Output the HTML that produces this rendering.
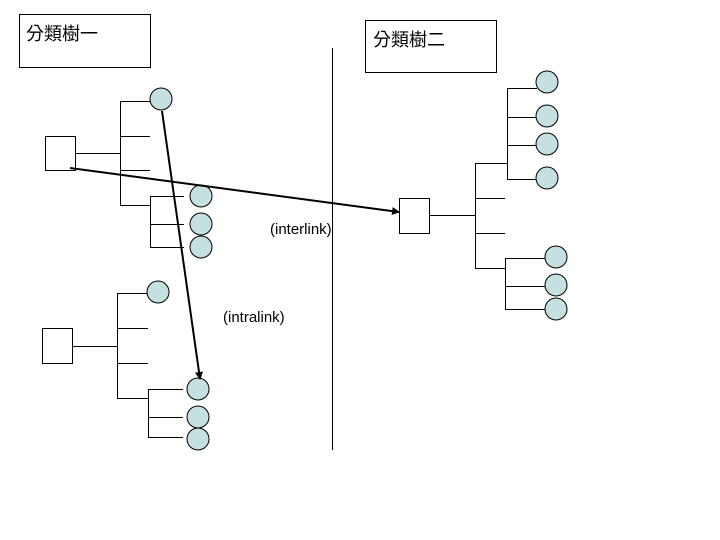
<!DOCTYPE html>
<html><head><meta charset="utf-8"><style>
body{margin:0;width:720px;height:540px;background:#fff;overflow:hidden}
svg{display:block}
text{font-family:"Liberation Sans","Noto Sans CJK TC",sans-serif}
</style></head><body>
<svg width="720" height="540" viewBox="0 0 720 540">
<defs><marker id="ah" markerWidth="8" markerHeight="8" refX="7" refY="4" orient="auto" markerUnits="userSpaceOnUse"><path d="M0,0 L8,4 L0,8 Z" fill="#000"/></marker></defs>
<g stroke="#000" stroke-width="1" fill="none">
<rect x="19.5" y="14.5" width="131" height="53"/>
<rect x="365.5" y="20.5" width="131" height="52"/>
<line x1="332.5" y1="48" x2="332.5" y2="450"/>
<!-- tree1 -->
<rect x="45.5" y="136.5" width="30" height="34" fill="#fff"/>
<path d="M75 153.5H120.5M120.5 101V205M120 101.5H151M120 136.5H150M120 170.5H150M120 205.5H150M150.5 196V247M150 196.5H184M150 224.5H184M150 247.5H184"/>
<!-- tree2 -->
<rect x="42.5" y="328.5" width="30" height="35" fill="#fff"/>
<path d="M72 346.5H117.5M117.5 293V398M117 293.5H147M117 328.5H148M117 363.5H148M117 398.5H148M148.5 389V437M148 389.5H183M148 417.5H183M148 437.5H183"/>
<!-- right -->
<rect x="399.5" y="198.5" width="30" height="35" fill="#fff"/>
<path d="M430 215.5H475.5M475.5 163V268M475 163.5H507M475 198.5H505M475 233.5H505M475 268.5H505M507.5 88V179M507 88.5H537M507 117.5H537M507 145.5H537M507 179.5H537M505.5 258V309M505 258.5H545M505 286.5H545M505 309.5H545"/>
</g>
<g fill="#c5e0e0" stroke="#000" stroke-width="1">
<circle cx="161" cy="99" r="11"/>
<circle cx="201" cy="196" r="11"/><circle cx="201" cy="224" r="11"/><circle cx="201" cy="247" r="11"/>
<circle cx="158" cy="292" r="11"/>
<circle cx="198" cy="389" r="11"/><circle cx="198" cy="417" r="11"/><circle cx="198" cy="439" r="11"/>
<circle cx="547" cy="82" r="11"/><circle cx="547" cy="116" r="11"/><circle cx="547" cy="144" r="11"/><circle cx="547" cy="178" r="11"/>
<circle cx="556" cy="257" r="11"/><circle cx="556" cy="285" r="11"/><circle cx="556" cy="309" r="11"/>
</g>
<g stroke="#000" stroke-width="2">
<line x1="70" y1="168" x2="399" y2="212" marker-end="url(#ah)"/>
<line x1="162" y1="111" x2="200" y2="379" marker-end="url(#ah)"/>
</g>
<text x="26" y="40" font-size="18">分類樹一</text>
<text x="373" y="46" font-size="18">分類樹二</text>
<text x="270" y="234" font-size="15">(interlink)</text>
<text x="223" y="322" font-size="15">(intralink)</text>
</svg>
</body></html>
